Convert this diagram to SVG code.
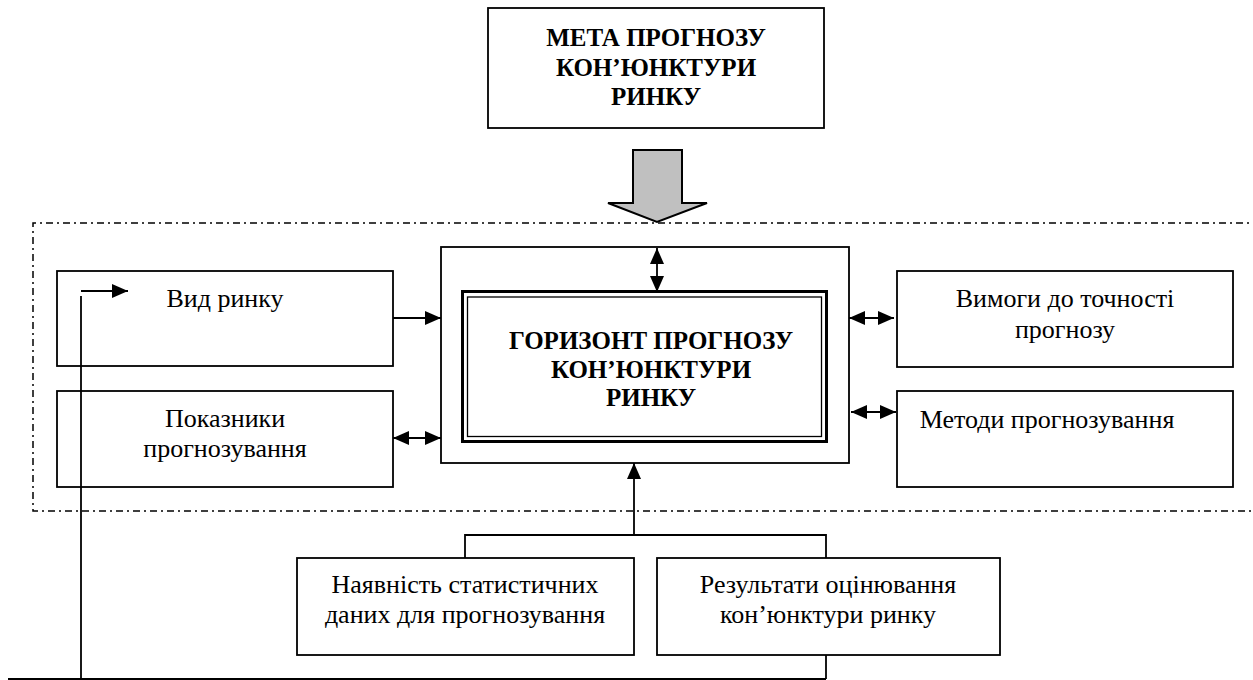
<svg xmlns="http://www.w3.org/2000/svg" width="1253" height="680" viewBox="0 0 1253 680">
<defs>
<marker id="ah" viewBox="0 0 16 14" refX="16" refY="7" markerWidth="16" markerHeight="14" markerUnits="userSpaceOnUse" orient="auto-start-reverse">
<path d="M0,0 L16,7 L0,14 Z" fill="#000"/>
</marker>
<style>
.box{fill:#fff;stroke:#000;stroke-width:1.8}
.ln{fill:none;stroke:#000;stroke-width:1.8}
.t{font-family:'Liberation Serif','Times New Roman',serif;font-size:26px;fill:#000;text-anchor:middle}
.b{font-family:'Liberation Serif','Times New Roman',serif;font-size:25px;font-weight:bold;fill:#000;text-anchor:middle}
</style>
</defs>
<rect width="1253" height="680" fill="#fff"/>
<g id="frame">
<path d="M1260,223 L33,223 L33,511 L1260,511" fill="none" stroke="#000" stroke-width="1.5" stroke-dasharray="7 4 2 4"/>
</g>
<g id="goal">
<rect class="box" x="488" y="8" width="336" height="120"/>
<text class="b" x="656" y="46">МЕТА ПРОГНОЗУ</text>
<text class="b" x="656" y="76">КОН’ЮНКТУРИ</text>
<text class="b" x="656" y="105">РИНКУ</text>
</g>
<g id="horizon">
<rect class="box" x="441" y="247" width="408" height="216"/>
<rect x="462.5" y="291.5" width="364" height="150" fill="none" stroke="#000" stroke-width="3"/>
<rect x="467.5" y="297" width="354" height="139.5" fill="none" stroke="#000" stroke-width="1.3"/>
<text class="b" x="651" y="349">ГОРИЗОНТ ПРОГНОЗУ</text>
<text class="b" x="651" y="378">КОН’ЮНКТУРИ</text>
<text class="b" x="651" y="406">РИНКУ</text>
</g>
<g id="market-type">
<rect class="box" x="57" y="271" width="336" height="95"/>
<text class="t" x="225" y="307">Вид ринку</text>
</g>
<g id="indicators">
<rect class="box" x="57" y="391" width="336" height="96"/>
<text class="t" x="225" y="427">Показники</text>
<text class="t" x="225" y="457">прогнозування</text>
</g>
<g id="accuracy">
<rect class="box" x="897" y="271" width="336" height="96"/>
<text class="t" x="1065" y="307">Вимоги до точності</text>
<text class="t" x="1065" y="338">прогнозу</text>
</g>
<g id="methods">
<rect class="box" x="897" y="391" width="336" height="96"/>
<text class="t" x="1047" y="428">Методи прогнозування</text>
</g>
<g id="data">
<rect class="box" x="297" y="558" width="337" height="97"/>
<text class="t" x="465" y="593">Наявність статистичних</text>
<text class="t" x="465" y="623">даних для прогнозування</text>
</g>
<g id="results">
<rect class="box" x="657" y="558" width="343" height="97"/>
<text class="t" x="828" y="593">Результати оцінювання</text>
<text class="t" x="828" y="623">кон’юнктури ринку</text>
</g>
<g id="connectors">
<polygon points="633,150 682,150 682,203 707,203 657,222 608,203 633,203" fill="#c0c0c0" stroke="#000" stroke-width="2"/>
<line class="ln" x1="393" y1="318" x2="441" y2="318" marker-end="url(#ah)"/>
<line class="ln" x1="393" y1="438" x2="441" y2="438" marker-start="url(#ah)" marker-end="url(#ah)"/>
<line class="ln" x1="657" y1="248" x2="657" y2="292" marker-start="url(#ah)" marker-end="url(#ah)"/>
<line class="ln" x1="849" y1="318" x2="894" y2="318" marker-start="url(#ah)" marker-end="url(#ah)"/>
<line class="ln" x1="851" y1="412" x2="896" y2="412" marker-start="url(#ah)" marker-end="url(#ah)"/>
<polyline class="ln" points="465,558 465,535 826,535 826,558"/>
<line class="ln" x1="634" y1="535" x2="634" y2="463" marker-end="url(#ah)"/>
<line class="ln" x1="826" y1="655" x2="826" y2="679"/>
<line class="ln" x1="8" y1="679" x2="826" y2="679"/>
<line class="ln" x1="81" y1="679" x2="81" y2="296"/>
<line class="ln" x1="81" y1="291" x2="128" y2="291" marker-end="url(#ah)"/>
</g>
</svg>
